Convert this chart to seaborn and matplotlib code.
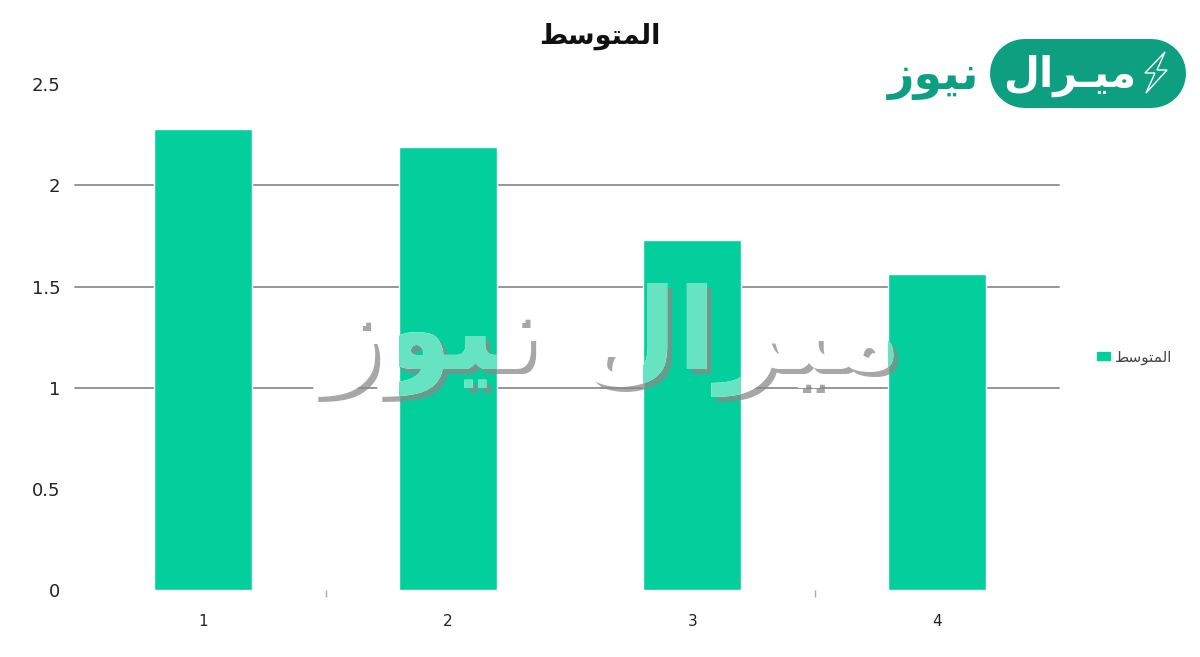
import matplotlib
matplotlib.use("Agg")
import matplotlib.pyplot as plt
import seaborn as sns
import pandas as pd
from matplotlib.lines import Line2D
from matplotlib.patches import Polygon
from matplotlib.transforms import IdentityTransform

categories = ["1", "2", "3", "4"]
values = [2.28, 2.19, 1.73, 1.56]
y_ticks = [0, 0.5, 1, 1.5, 2, 2.5]
y_tick_labels = ["0", "0.5", "1", "1.5", "2", "2.5"]
grid_levels = [1, 1.5, 2]
title_text = "المتوسط"
logo_word_1 = "ميـرال"
logo_word_2 = "نيوز"
watermark_word_1 = "ميرال"

FORMS = {
    "ا": (0xFE8D, 0xFE8E), "ر": (0xFEAD, 0xFEAE), "ز": (0xFEAF, 0xFEB0), "و": (0xFEED, 0xFEEE),
    "ل": (0xFEDD, 0xFEDE, 0xFEDF, 0xFEE0), "م": (0xFEE1, 0xFEE2, 0xFEE3, 0xFEE4),
    "ت": (0xFE95, 0xFE96, 0xFE97, 0xFE98), "س": (0xFEB1, 0xFEB2, 0xFEB3, 0xFEB4),
    "ط": (0xFEC1, 0xFEC2, 0xFEC3, 0xFEC4), "ي": (0xFEF1, 0xFEF2, 0xFEF3, 0xFEF4),
    "ن": (0xFEE5, 0xFEE6, 0xFEE7, 0xFEE8),
}
KASHIDA = "ـ"


def joins_forward(c):
    return c == KASHIDA or (c in FORMS and len(FORMS[c]) == 4)


def shape(word):
    """Contextual forms, in visual order, since matplotlib has no Arabic shaping."""
    out = []
    for i, c in enumerate(word):
        if c not in FORMS:
            out.append(c)
            continue
        prev_j = i > 0 and joins_forward(word[i - 1])
        next_j = i + 1 < len(word) and (word[i + 1] in FORMS or word[i + 1] == KASHIDA) and joins_forward(c)
        f = FORMS[c]
        idx = 3 if prev_j and next_j else 1 if prev_j else 2 if next_j else 0
        out.append(chr(f[idx]))
    return "".join(reversed(out))


sns.set_theme(style="white")
plt.rcParams["font.family"] = ["DejaVu Sans"]

W, H = 1200, 657
fig = plt.figure(figsize=(W / 100, H / 100), dpi=100, facecolor="white")
ax = fig.add_axes([81 / W, 1 - 590 / H, 978 / W, (590 - 84.3) / H])

BAR = "#03CF9C"
df = pd.DataFrame({"cat": categories, "val": values})
sns.barplot(data=df, x="cat", y="val", color=BAR, saturation=1, width=0.401, ax=ax, zorder=3)

ax.set_xlim(-0.5, 3.5)
ax.set_ylim(0, 2.5)
ax.set_xlabel("")
ax.set_ylabel("")
ax.set_yticks(y_ticks, y_tick_labels)
for s in ax.spines.values():
    s.set_visible(False)
for lv in grid_levels:
    ax.plot([-0.525, 3.5], [lv, lv], color="#969696", lw=1.4, zorder=1, clip_on=False)
ax.tick_params(axis="y", length=0, pad=15, labelsize=13, labelcolor="#222222")
ax.tick_params(axis="x", length=0, pad=17, labelsize=11, labelcolor="#222222")
ax.set_xticks([0.5, 2.5], minor=True)
ax.tick_params(axis="x", which="minor", bottom=True, length=5, width=1, color="#aaaaaa")

fig.text(600 / W, 1 - 36 / H, shape(title_text), ha="center", va="center", fontsize=19.5,
         color="#111111", fontweight="bold")

# Legend
handle = plt.Rectangle((0, 0), 1, 1, color=BAR)
fig.legend([handle], [shape(title_text)], loc="center left", bbox_to_anchor=(1085 / W, 1 - 357 / H),
           frameon=False, handlelength=0.85, handleheight=0.5, handletextpad=0.3,
           prop={"size": 11}, labelcolor="#444444", borderpad=0.3)

# Watermark
wm = shape(logo_word_2) + " " + shape(watermark_word_1)
kw = dict(ha="center", va="center", fontsize=81, fontweight="bold")
wx, wy = 610, 340


def wtext(dx, dy, **k):
    return fig.text((wx + dx) / W, 1 - (wy + dy) / H, wm, **kw, **k)


wtext(5, 5, color="#8a8a8a", alpha=0.75, zorder=5)
wtext(0, 0, color="white", zorder=6)
for bar in ax.patches:
    t = wtext(0, 0, color="#66E4C2", zorder=7, clip_on=True)
    t.set_clip_path(bar)

# Logo
LOGO = "#0E9F80"
idt = IdentityTransform()
fig.add_artist(Line2D([1024, 1151], [H - 72.5, H - 72.5], color=LOGO, lw=69 * 0.72,
                      solid_capstyle="round", transform=idt, zorder=8))
fig.text(1070 / W, 1 - 76 / H, shape(logo_word_1), ha="center", va="center", fontsize=30, color="white",
         fontweight="bold", zorder=9)
fig.text(934 / W, 1 - 78 / H, shape(logo_word_2), ha="center", va="center", fontsize=33, color=LOGO,
         fontweight="bold", zorder=9)
fig.add_artist(Polygon([(1165, H - 52), (1145, H - 73), (1155, H - 73), (1146, H - 93), (1167, H - 70), (1157, H - 70)],
                       closed=True, fc="none", ec="white", lw=1, transform=idt, zorder=9))

fig.savefig("out.png", dpi=100, facecolor="white")
